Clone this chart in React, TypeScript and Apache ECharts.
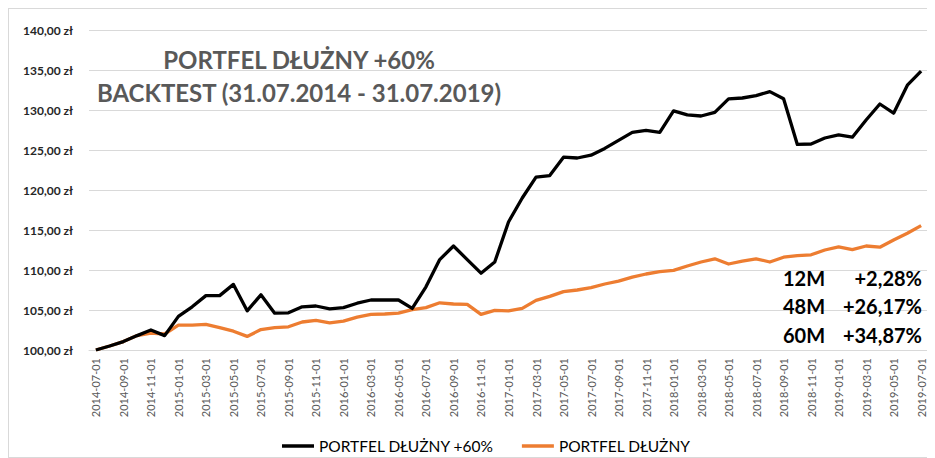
import React, { useEffect, useRef } from "react";
import * as echarts from "echarts";

const dates: string[] = [
  "2014-07-01","2014-08-01","2014-09-01","2014-10-01","2014-11-01","2014-12-01",
  "2015-01-01","2015-02-01","2015-03-01","2015-04-01","2015-05-01","2015-06-01",
  "2015-07-01","2015-08-01","2015-09-01","2015-10-01","2015-11-01","2015-12-01",
  "2016-01-01","2016-02-01","2016-03-01","2016-04-01","2016-05-01","2016-06-01",
  "2016-07-01","2016-08-01","2016-09-01","2016-10-01","2016-11-01","2016-12-01",
  "2017-01-01","2017-02-01","2017-03-01","2017-04-01","2017-05-01","2017-06-01",
  "2017-07-01","2017-08-01","2017-09-01","2017-10-01","2017-11-01","2017-12-01",
  "2018-01-01","2018-02-01","2018-03-01","2018-04-01","2018-05-01","2018-06-01",
  "2018-07-01","2018-08-01","2018-09-01","2018-10-01","2018-11-01","2018-12-01",
  "2019-01-01","2019-02-01","2019-03-01","2019-04-01","2019-05-01","2019-06-01",
  "2019-07-01",
];

const portfelPlus60: number[] = [
  100.0, 100.5, 101.05, 101.8, 102.5, 101.8,
  104.2, 105.4, 106.8, 106.8, 108.2, 104.9,
  106.9, 104.6, 104.65, 105.4, 105.5, 105.15,
  105.3, 105.85, 106.25, 106.25, 106.25, 105.2,
  107.9, 111.3, 113.0, 111.3, 109.6, 111.0,
  116.0, 119.0, 121.6, 121.8, 124.1, 124.0,
  124.35, 125.2, 126.2, 127.2, 127.45, 127.2,
  129.9, 129.4, 129.25, 129.7, 131.4, 131.5,
  131.8, 132.3, 131.4, 125.7, 125.75, 126.5,
  126.9, 126.6, 128.75, 130.75, 129.6, 133.1,
  134.85,
];

const portfel: number[] = [
  100.0, 100.5, 101.05, 101.8, 102.1, 102.0,
  103.1, 103.1, 103.2, 102.8, 102.35, 101.7,
  102.55, 102.8, 102.9, 103.5, 103.7, 103.4,
  103.6, 104.1, 104.45, 104.5, 104.6, 105.05,
  105.3, 105.9, 105.75, 105.7, 104.45, 104.95,
  104.9, 105.2, 106.2, 106.7, 107.3, 107.5,
  107.8, 108.25, 108.6, 109.1, 109.5, 109.8,
  109.95, 110.5, 111.0, 111.4, 110.75, 111.1,
  111.4, 111.0, 111.6, 111.8, 111.9, 112.5,
  112.9, 112.55, 113.0, 112.85, 113.75, 114.6,
  115.55,
];

const seriesNames: string[] = ["PORTFEL DŁUŻNY +60%", "PORTFEL DŁUŻNY"];
const titleLines: string[] = ["PORTFEL DŁUŻNY +60%", "BACKTEST (31.07.2014 - 31.07.2019)"];
const statLabels: string[] = ["12M", "48M", "60M"];
const statValues: string[] = ["+2,28%", "+26,17%", "+34,87%"];

const FONT = "Lato, 'Open Sans', sans-serif";

export default function App() {
  const ref = useRef<HTMLDivElement>(null);

  useEffect(() => {
    if (!ref.current) return;
    const chart = echarts.init(ref.current, undefined, { renderer: "svg" });

    const statGraphics: any[] = [];
    const statCenters = [268.5, 297, 325.5];
    statLabels.forEach((lab, i) => {
      statGraphics.push({
        type: "text",
        x: 774,
        y: statCenters[i],
        z: 11,
        style: {
          text: lab,
          font: `bold 20px ${FONT}`,
          fill: "#000",
          textAlign: "left",
          textVerticalAlign: "middle",
        },
      });
      statGraphics.push({
        type: "text",
        x: 913,
        y: statCenters[i],
        z: 11,
        style: {
          text: statValues[i],
          font: `bold 20px ${FONT}`,
          fill: "#000",
          textAlign: "right",
          textVerticalAlign: "middle",
        },
      });
    });

    chart.setOption({
      animation: false,
      backgroundColor: "#fff",
      grid: { left: 80, right: 6, top: 21, bottom: 107, containLabel: false },
      legend: {
        left: 268,
        top: 424,
        icon: "rect",
        itemWidth: 32,
        itemHeight: 3.5,
        itemGap: 28,
        textStyle: { fontFamily: FONT, fontSize: 15.5, color: "#000" },
        data: seriesNames,
      },
      xAxis: {
        type: "category",
        data: dates,
        boundaryGap: true,
        axisLine: { lineStyle: { color: "#d9d9d9", width: 1 } },
        axisTick: { show: false },
        axisLabel: {
          interval: 1,
          rotate: 90,
          margin: 8,
          color: "#595959",
          fontFamily: FONT,
          fontSize: 11,
        },
      },
      yAxis: {
        type: "value",
        min: 100,
        max: 140,
        interval: 5,
        axisLine: { show: false },
        axisTick: { show: false },
        splitLine: { lineStyle: { color: "#d9d9d9", width: 1 } },
        axisLabel: {
          margin: 16,
          color: "#262626",
          fontFamily: FONT,
          fontSize: 12,
          fontWeight: "bold",
          formatter: (v: number) => v.toFixed(2).replace(".", ",") + " zł",
        },
      },
      series: [
        {
          name: seriesNames[0],
          type: "line",
          data: portfelPlus60,
          symbol: "none",
          color: "#000000",
          lineStyle: { color: "#000000", width: 3.3, join: "round" },
          z: 3,
        },
        {
          name: seriesNames[1],
          type: "line",
          data: portfel,
          symbol: "none",
          color: "#ED7D31",
          lineStyle: { color: "#ED7D31", width: 3.3, join: "round" },
          z: 2,
        },
      ],
      graphic: [
        {
          type: "text",
          x: 290,
          y: 50,
          style: {
            text: titleLines[0],
            font: `bold 24px ${FONT}`,
            fill: "#595959",
            textAlign: "center",
            textVerticalAlign: "middle",
          },
        },
        {
          type: "text",
          x: 290,
          y: 83,
          style: {
            text: titleLines[1],
            font: `bold 24px ${FONT}`,
            fill: "#595959",
            textAlign: "center",
            textVerticalAlign: "middle",
          },
        },
        ...statGraphics,
      ],
    });

    return () => chart.dispose();
  }, []);

  return (
    <div
      ref={ref}
      style={{
        width: 927,
        height: 450,
        border: "1px solid #d9d9d9",
        boxSizing: "border-box",
      }}
    />
  );
}
